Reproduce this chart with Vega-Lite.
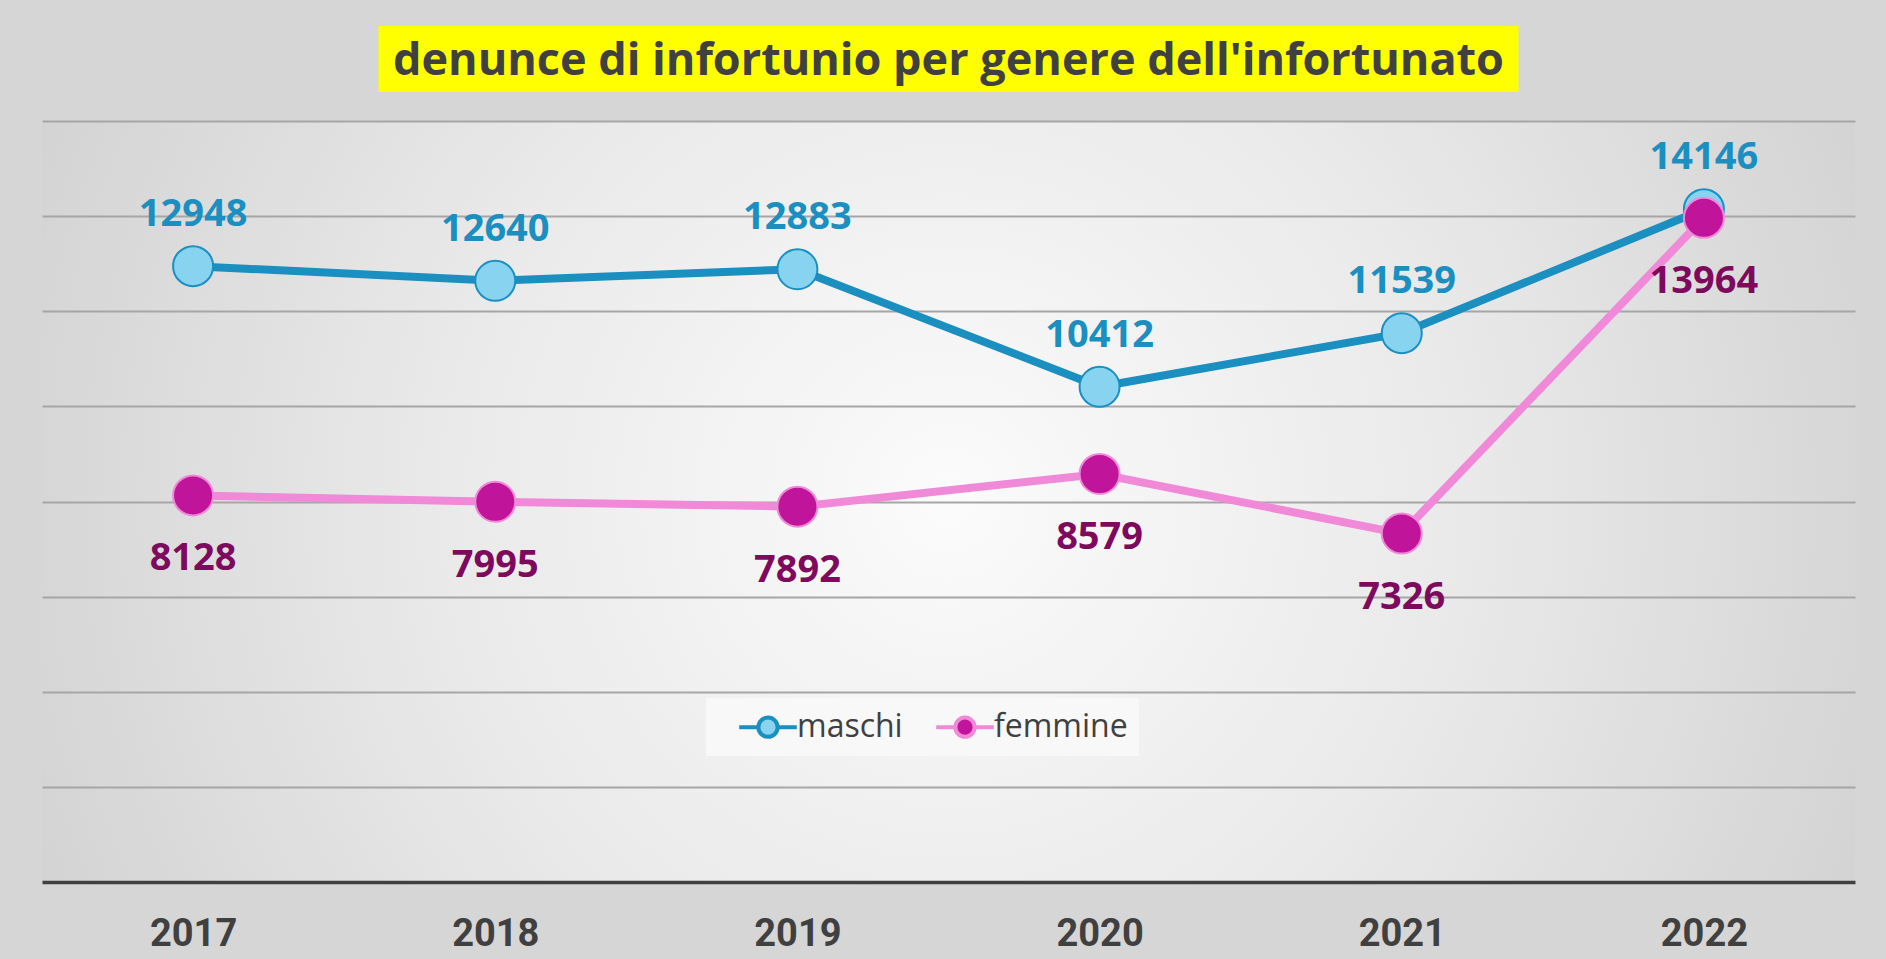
{
  "$schema": "https://vega.github.io/schema/vega-lite/v6.json",
  "background": "#d6d6d6",
  "padding": {"left": 42, "top": 26, "right": 31, "bottom": 10},
  "config": {"view": {"stroke": null}},
  "center": true,
  "spacing": 29,
  "resolve": {
    "scale": {"fill": "independent", "stroke": "independent"},
    "legend": {"fill": "independent", "stroke": "independent"}
  },
  "vconcat": [
    {
      "width": 1140,
      "height": 66,
      "view": {"fill": "#ffff00", "stroke": null},
      "data": {"values": [{"t": "denunce di infortunio per genere dell'infortunato"}]},
      "mark": {"type": "text", "font": "Open Sans", "fontWeight": "bold", "fontSize": 45, "color": "#404040", "baseline": "middle", "align": "center", "dy": 2},
      "encoding": {"text": {"field": "t"}}
    },
    {
      "width": 1813,
      "height": 761,
      "view": {
        "stroke": null,
        "fill": {
          "gradient": "radial",
          "x1": 0.5, "y1": 0.5, "r1": 0,
          "x2": 0.5, "y2": 0.5, "r2": 0.72,
          "stops": [
            {"offset": 0, "color": "#fbfbfb"},
            {"offset": 0.4, "color": "#e9e9e9"},
            {"offset": 1, "color": "#c4c4c4"}
          ]
        }
      },
      "data": {
        "values": [
          {"anno": "2017", "genere": "maschi", "valore": 12948},
          {"anno": "2018", "genere": "maschi", "valore": 12640},
          {"anno": "2019", "genere": "maschi", "valore": 12883},
          {"anno": "2020", "genere": "maschi", "valore": 10412},
          {"anno": "2021", "genere": "maschi", "valore": 11539},
          {"anno": "2022", "genere": "maschi", "valore": 14146},
          {"anno": "2017", "genere": "femmine", "valore": 8128},
          {"anno": "2018", "genere": "femmine", "valore": 7995},
          {"anno": "2019", "genere": "femmine", "valore": 7892},
          {"anno": "2020", "genere": "femmine", "valore": 8579},
          {"anno": "2021", "genere": "femmine", "valore": 7326},
          {"anno": "2022", "genere": "femmine", "valore": 13964}
        ]
      },
      "layer": [
        {
          "transform": [{"filter": "datum.genere === 'maschi'"}],
          "mark": {"type": "line", "strokeWidth": 8, "color": "#1a8fc0"},
          "encoding": {
            "x": {
              "field": "anno", "type": "ordinal",
              "axis": {
                "title": null, "labelAngle": 0,
                "labelFont": "Liberation Sans Narrow, Roboto", "labelFontSize": 38, "labelFontWeight": "bold",
                "labelColor": "#404040", "labelPadding": 33,
                "ticks": false, "tickSize": 0,
                "domainColor": "#404040", "domainWidth": 3.5, "grid": false
              }
            },
            "y": {
              "field": "valore", "type": "quantitative",
              "scale": {"domain": [0, 16000], "nice": false},
              "axis": {
                "title": null, "labels": false, "ticks": false, "domain": false,
                "grid": true, "gridColor": "#a6a6a6", "gridWidth": 2,
                "values": [2000, 4000, 6000, 8000, 10000, 12000, 14000, 16000],
                "minExtent": 0, "maxExtent": 0
              }
            }
          }
        },
        {
          "transform": [{"filter": "datum.genere === 'femmine'"}],
          "mark": {"type": "line", "strokeWidth": 8, "color": "#f08ad8"},
          "encoding": {
            "x": {"field": "anno", "type": "ordinal"},
            "y": {"field": "valore", "type": "quantitative"}
          }
        },
        {
          "mark": {"type": "circle", "size": 1600, "opacity": 1, "strokeWidth": 2},
          "encoding": {
            "x": {"field": "anno", "type": "ordinal"},
            "y": {"field": "valore", "type": "quantitative"},
            "fill": {
              "field": "genere", "type": "nominal",
              "scale": {"domain": ["maschi", "femmine"], "range": ["#87d3f0", "#c0159a"]},
              "legend": {
                "orient": "none", "legendX": 664, "legendY": 577, "zindex": 1,
                "direction": "horizontal", "title": null,
                "fillColor": "#f8f8f8", "padding": 11,
                "symbolType": "M-1.8,0H-0.6M0.6,0H1.8M-0.6,0A0.6,0.6,0,1,1,0.6,0A0.6,0.6,0,1,1,-0.6,0Z",
                "symbolSize": 1024, "symbolStrokeWidth": 4, "symbolOffset": 33,
                "labelOffset": 11, "labelFontSize": 32, "labelFont": "Open Sans",
                "labelColor": "#404040", "columnPadding": 11
              }
            },
            "stroke": {
              "field": "genere", "type": "nominal",
              "scale": {"domain": ["maschi", "femmine"], "range": ["#1a8fc0", "#f08ad8"]},
              "legend": {
                "orient": "none", "legendX": 664, "legendY": 577, "zindex": 1,
                "direction": "horizontal", "title": null,
                "fillColor": "#f8f8f8", "padding": 11,
                "symbolType": "M-1.8,0H-0.6M0.6,0H1.8M-0.6,0A0.6,0.6,0,1,1,0.6,0A0.6,0.6,0,1,1,-0.6,0Z",
                "symbolSize": 1024, "symbolStrokeWidth": 4, "symbolOffset": 33,
                "labelOffset": 11, "labelFontSize": 32, "labelFont": "Open Sans",
                "labelColor": "#404040", "columnPadding": 11
              }
            }
          }
        },
        {
          "transform": [{"filter": "datum.genere === 'maschi'"}],
          "mark": {"type": "text", "dy": -51, "font": "Open Sans", "fontWeight": "bold", "fontSize": 38, "color": "#1a8fc0", "baseline": "middle"},
          "encoding": {
            "x": {"field": "anno", "type": "ordinal"},
            "y": {"field": "valore", "type": "quantitative"},
            "text": {"field": "valore", "type": "quantitative", "format": "d"}
          }
        },
        {
          "transform": [{"filter": "datum.genere === 'femmine'"}],
          "mark": {"type": "text", "dy": 64, "font": "Open Sans", "fontWeight": "bold", "fontSize": 38, "color": "#7e0a5e", "baseline": "middle"},
          "encoding": {
            "x": {"field": "anno", "type": "ordinal"},
            "y": {"field": "valore", "type": "quantitative"},
            "text": {"field": "valore", "type": "quantitative", "format": "d"}
          }
        }
      ]
    }
  ]
}
